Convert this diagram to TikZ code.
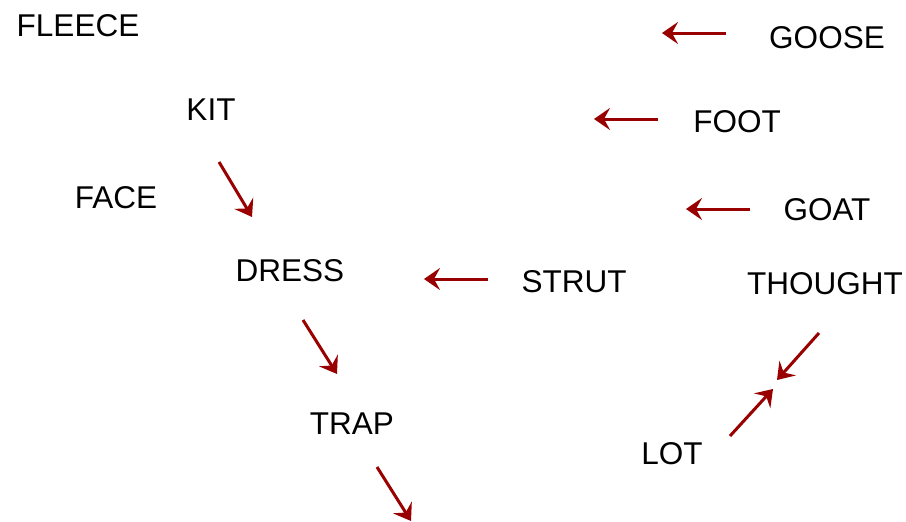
\documentclass[tikz,border=0pt]{standalone}
\usepackage{fontspec}
\setmainfont{Liberation Sans}
\usetikzlibrary{arrows.meta}
\definecolor{arrred}{HTML}{990000}
\begin{document}
\begin{tikzpicture}[x=1pt,y=-1pt,
  word/.style={anchor=base,inner sep=0pt,font=\fontsize{31.5}{37}\selectfont},
  link/.style={draw=arrred,line width=3pt,-{Stealth[length=16pt,width=22pt,inset=6pt]}}]
\useasboundingbox (0,0) rectangle (906,522);
\node[word] (fleece) at (78,36) {FLEECE};
\node[word] (goose) at (827,48) {GOOSE};
\node[word] (kit) at (211,120) {KIT};
\node[word] (foot) at (737,132) {FOOT};
\node[word] (face) at (116,208) {FACE};
\node[word] (goat) at (827,220) {GOAT};
\node[word] (dress) at (290,281) {DRESS};
\node[word] (strut) at (574,292) {STRUT};
\node[word] (thought) at (825,294) {THOUGHT};
\node[word] (trap) at (352,434) {TRAP};
\node[word] (lot) at (672,464) {LOT};
\coordinate (a1s) at (726,33); \coordinate (a1e) at (662,33);
\coordinate (a2s) at (658,119); \coordinate (a2e) at (594,119);
\coordinate (a3s) at (750,209); \coordinate (a3e) at (686,209);
\coordinate (a4s) at (488,279); \coordinate (a4e) at (424,279);
\coordinate (a5s) at (219,162); \coordinate (a5e) at (252,217);
\coordinate (a6s) at (303,320); \coordinate (a6e) at (337,374);
\coordinate (a7s) at (377,467); \coordinate (a7e) at (411,521);
\coordinate (a8s) at (819,333); \coordinate (a8e) at (777,380);
\coordinate (a9s) at (730,436); \coordinate (a9e) at (773,389);
\foreach \i in {1,...,9} \draw[link] (a\i s) -- (a\i e);
\end{tikzpicture}
\end{document}
